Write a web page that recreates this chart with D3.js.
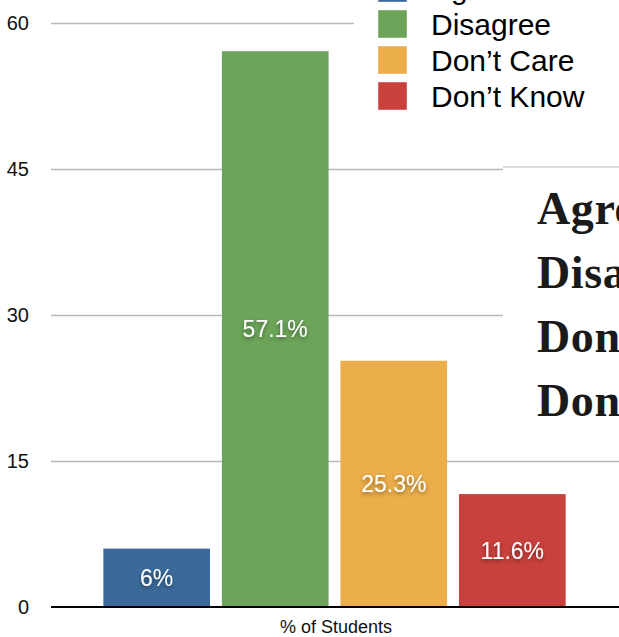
<!DOCTYPE html>
<html>
<head>
<meta charset="utf-8">
<script src="https://cdn.jsdelivr.net/npm/d3@7"></script>
<style>
  body { margin: 0; background: #fff; }
  svg { display: block; font-family: "Liberation Sans", Arial, Helvetica, sans-serif; }
</style>
</head>
<body>
<div id="chart"></div>
<script>
var svgWidth = 619;
var svgHeight = 637;

// data
var categories = ["Agree", "Disagree", "Don\u2019t Care", "Don\u2019t Know"];
var values = [6, 57.1, 25.3, 11.6];
var valueLabels = ["6%", "57.1%", "25.3%", "11.6%"];
var colors = ["#3b6a9a", "#6ca55a", "#ecae4b", "#c9413d"];
var yTicks = [0, 15, 30, 45, 60];
var sideWords = ["Agree", "Disagree", "Don\u2019t Care", "Don\u2019t Know"];

var svg = d3.select("#chart")
  .append("svg")
  .attr("width", svgWidth)
  .attr("height", svgHeight);

// drop shadow for the value labels
var defs = svg.append("defs");
defs.append("filter")
  .attr("id", "shadow")
  .attr("x", "-30%").attr("y", "-30%")
  .attr("width", "160%").attr("height", "160%")
  .append("feDropShadow")
  .attr("dx", 0)
  .attr("dy", 2)
  .attr("stdDeviation", 2)
  .attr("flood-color", "#000")
  .attr("flood-opacity", 0.45);

// Scales
var xScale = d3.scaleBand()
  .domain(categories)
  .range([50, 619])
  .paddingInner(0.1)
  .paddingOuter(0.45);

var yScale = d3.scaleLinear()
  .domain([0, 60])
  .range([607, 23]);

// Gridlines + tick labels
var yAxis = d3.axisLeft(yScale)
  .tickValues(yTicks)
  .tickSize(-(619 - 51))
  .tickPadding(22)
  .tickFormat(d3.format("d"));

var axisG = svg.append("g")
  .attr("transform", "translate(51,0)")
  .call(yAxis);

axisG.attr("font-family", null);
axisG.select(".domain").remove();
axisG.selectAll(".tick line")
  .attr("stroke", "#b8b8b8")
  .attr("stroke-width", 1.6);
axisG.selectAll(".tick text")
  .attr("font-size", 20)
  .attr("fill", "#111");
axisG.selectAll(".tick")
  .filter(d => d === 0)
  .select("line")
  .remove();

// Bars
svg.append("g").selectAll("rect")
  .data(values)
  .enter()
  .append("rect")
  .attr("x", (d, i) => xScale(categories[i]))
  .attr("y", d => yScale(d))
  .attr("width", xScale.bandwidth())
  .attr("height", d => yScale(0) - yScale(d))
  .attr("fill", (d, i) => colors[i]);

// Value labels, centred in each bar
svg.append("g").selectAll("text")
  .data(values)
  .enter()
  .append("text")
  .attr("x", (d, i) => xScale(categories[i]) + xScale.bandwidth() / 2)
  .attr("y", d => (yScale(d) + yScale(0)) / 2)
  .attr("dy", "0.36em")
  .attr("text-anchor", "middle")
  .attr("font-size", 23)
  .attr("fill", "#fff")
  .attr("filter", "url(#shadow)")
  .text((d, i) => valueLabels[i]);

// Baseline
svg.append("line")
  .attr("x1", 51)
  .attr("x2", 619)
  .attr("y1", yScale(0))
  .attr("y2", yScale(0))
  .attr("stroke", "#000")
  .attr("stroke-width", 2);

// x axis title
svg.append("text")
  .attr("x", 336)
  .attr("y", 633)
  .attr("text-anchor", "middle")
  .attr("font-size", 18)
  .attr("fill", "#111")
  .text("% of Students");

// Legend (sits on a white box over the top gridline)
svg.append("rect")
  .attr("x", 354)
  .attr("y", 0)
  .attr("width", 265)
  .attr("height", 116)
  .attr("fill", "#fff");

var legend = svg.append("g")
  .attr("transform", "translate(378,-26)");

var legendRow = legend.selectAll("g")
  .data(categories)
  .enter()
  .append("g")
  .attr("transform", (d, i) => `translate(0, ${i * 36})`);

legendRow.append("rect")
  .attr("width", 29)
  .attr("height", 28)
  .attr("fill", (d, i) => colors[i])
  .attr("stroke", "#fff")
  .attr("stroke-opacity", 0.4);

legendRow.append("text")
  .attr("x", 53)
  .attr("y", 25)
  .attr("font-size", 30)
  .attr("fill", "#000")
  .text(d => d);

// Overlapping text box on the right
svg.append("rect")
  .attr("x", 503)
  .attr("y", 167)
  .attr("width", 116)
  .attr("height", 278)
  .attr("fill", "#fff");

svg.append("line")
  .attr("x1", 503)
  .attr("x2", 619)
  .attr("y1", 167)
  .attr("y2", 167)
  .attr("stroke", "#b8b8b8")
  .attr("stroke-width", 1.2);

svg.append("g").selectAll("text")
  .data(sideWords)
  .enter()
  .append("text")
  .attr("x", 537)
  .attr("y", (d, i) => 224 + i * 64)
  .style("font-family", "'Liberation Serif', 'Times New Roman', serif")
  .style("letter-spacing", "0.6px")
  .attr("font-weight", "bold")
  .attr("font-size", 46)
  .attr("fill", "#1a1a1a")
  .text(d => d);
</script>
</body>
</html>
